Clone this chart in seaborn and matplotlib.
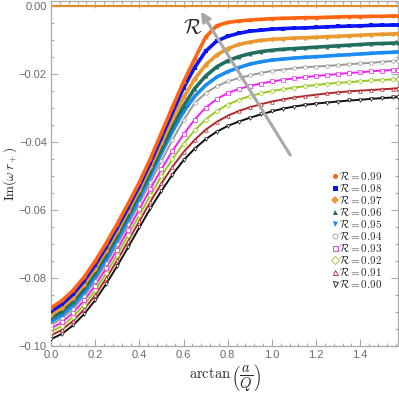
import numpy as np
import pandas as pd
import matplotlib
matplotlib.use('Agg')
import matplotlib.pyplot as plt
import seaborn as sns
from matplotlib.lines import Line2D

# arctan(a/Q) sample points
x_vals = [0.00, 0.05, 0.10, 0.15, 0.20, 0.25, 0.30, 0.35, 0.40, 0.45, 0.50,
          0.55, 0.60, 0.65, 0.70, 0.75, 0.80, 0.85, 0.90, 0.95, 1.00, 1.05,
          1.10, 1.15, 1.20, 1.25, 1.30, 1.35, 1.40, 1.45, 1.50, 1.55, 1.5708]

# Im(omega r+), one list per R
im_099 = [-0.0888, -0.0866, -0.0836, -0.0797, -0.0750, -0.0697, -0.0640, -0.0580, -0.0518, -0.0448, -0.0372,
          -0.0296, -0.0222, -0.0155, -0.0090, -0.0057, -0.0047, -0.0043, -0.0040, -0.0038, -0.0036, -0.0035,
          -0.0034, -0.0033, -0.0033, -0.0032, -0.0031, -0.0030, -0.0030, -0.0029, -0.0029, -0.0028, -0.0028]
im_098 = [-0.0898, -0.0877, -0.0847, -0.0808, -0.0761, -0.0708, -0.0651, -0.0591, -0.0529, -0.0460, -0.0386,
          -0.0312, -0.0240, -0.0180, -0.0132, -0.0102, -0.0088, -0.0079, -0.0073, -0.0070, -0.0067, -0.0065,
          -0.0064, -0.0063, -0.0062, -0.0060, -0.0059, -0.0058, -0.0057, -0.0056, -0.0055, -0.0055, -0.0054]
im_097 = [-0.0908, -0.0887, -0.0858, -0.0819, -0.0772, -0.0719, -0.0662, -0.0602, -0.0540, -0.0473, -0.0402,
          -0.0332, -0.0268, -0.0214, -0.0172, -0.0143, -0.0124, -0.0112, -0.0105, -0.0100, -0.0097, -0.0095,
          -0.0093, -0.0092, -0.0091, -0.0089, -0.0088, -0.0086, -0.0085, -0.0083, -0.0082, -0.0081, -0.0080]
im_096 = [-0.0918, -0.0898, -0.0869, -0.0830, -0.0784, -0.0731, -0.0674, -0.0614, -0.0552, -0.0487, -0.0419,
          -0.0353, -0.0293, -0.0242, -0.0205, -0.0178, -0.0160, -0.0148, -0.0139, -0.0133, -0.0129, -0.0126,
          -0.0124, -0.0122, -0.0120, -0.0118, -0.0116, -0.0114, -0.0112, -0.0110, -0.0109, -0.0108, -0.0107]
im_095 = [-0.0928, -0.0909, -0.0880, -0.0842, -0.0796, -0.0744, -0.0687, -0.0627, -0.0565, -0.0500, -0.0432,
          -0.0368, -0.0310, -0.0265, -0.0232, -0.0208, -0.0192, -0.0180, -0.0170, -0.0163, -0.0158, -0.0155,
          -0.0152, -0.0150, -0.0148, -0.0146, -0.0144, -0.0142, -0.0140, -0.0138, -0.0136, -0.0135, -0.0134]
im_094 = [-0.0938, -0.0919, -0.0891, -0.0854, -0.0809, -0.0757, -0.0701, -0.0642, -0.0580, -0.0518, -0.0455,
          -0.0393, -0.0335, -0.0285, -0.0255, -0.0235, -0.0221, -0.0211, -0.0203, -0.0196, -0.0190, -0.0186,
          -0.0182, -0.0179, -0.0177, -0.0175, -0.0173, -0.0170, -0.0168, -0.0166, -0.0163, -0.0161, -0.0160]
im_093 = [-0.0948, -0.0930, -0.0902, -0.0866, -0.0822, -0.0771, -0.0716, -0.0657, -0.0597, -0.0537, -0.0479,
          -0.0425, -0.0377, -0.0333, -0.0298, -0.0273, -0.0255, -0.0243, -0.0234, -0.0227, -0.0221, -0.0216,
          -0.0212, -0.0208, -0.0205, -0.0202, -0.0199, -0.0196, -0.0194, -0.0191, -0.0189, -0.0187, -0.0186]
im_092 = [-0.0958, -0.0941, -0.0914, -0.0879, -0.0836, -0.0786, -0.0731, -0.0673, -0.0614, -0.0556, -0.0500,
          -0.0449, -0.0404, -0.0365, -0.0333, -0.0308, -0.0289, -0.0275, -0.0264, -0.0256, -0.0249, -0.0244,
          -0.0239, -0.0235, -0.0231, -0.0228, -0.0225, -0.0223, -0.0220, -0.0218, -0.0216, -0.0215, -0.0214]
im_091 = [-0.0969, -0.0952, -0.0926, -0.0892, -0.0850, -0.0801, -0.0747, -0.0690, -0.0632, -0.0575, -0.0521,
          -0.0472, -0.0429, -0.0393, -0.0363, -0.0340, -0.0322, -0.0308, -0.0297, -0.0288, -0.0280, -0.0274,
          -0.0268, -0.0264, -0.0260, -0.0256, -0.0253, -0.0250, -0.0248, -0.0246, -0.0244, -0.0242, -0.0241]
im_090 = [-0.0980, -0.0964, -0.0939, -0.0906, -0.0865, -0.0817, -0.0764, -0.0708, -0.0651, -0.0595, -0.0543,
          -0.0495, -0.0453, -0.0419, -0.0391, -0.0369, -0.0352, -0.0339, -0.0328, -0.0318, -0.0309, -0.0301,
          -0.0295, -0.0290, -0.0286, -0.0283, -0.0280, -0.0277, -0.0275, -0.0272, -0.0270, -0.0268, -0.0267]

r_labels = ['0.99', '0.98', '0.97', '0.96', '0.95', '0.94', '0.93', '0.92', '0.91', '0.90']
series = [im_099, im_098, im_097, im_096, im_095, im_094, im_093, im_092, im_091, im_090]

# styles
colors = ['#FF6410', '#0A14F5', '#E89A30', '#216E5E', '#1A8CF0',
          '#9A9A9A', '#F020F0', '#98C820', '#B02828', '#111111']
markers = ['o', 's', 'D', '^', 'v', 'o', 's', 'D', '^', 'v']
filled = [True, True, True, True, True, False, False, False, False, False]

sns.set_style('ticks')
plt.rcParams['mathtext.fontset'] = 'cm'
plt.rcParams['font.family'] = ['Liberation Sans', 'DejaVu Sans']

fig = plt.figure(figsize=(3.99, 3.95), dpi=100)
ax = fig.add_axes([51/399, 49/395, 347/399, 345/395])

# horizontal line at zero
ax.axhline(0.0, color='#E08A2E', lw=1.6, zorder=1)

rows = []
for lab, vals in zip(r_labels, series):
    for xv, yv in zip(x_vals, vals):
        rows.append({'x': xv, 'im': yv, 'R': lab})
df = pd.DataFrame(rows)

# draw R=0.90 first so R=0.99 ends up on top
for i in reversed(range(len(r_labels))):
    d = df[df.R == r_labels[i]]
    if filled[i]:
        sns.lineplot(data=d, x='x', y='im', ax=ax, color=colors[i], lw=2.6,
                     marker=markers[i], markersize=2.8, markeredgewidth=0,
                     markerfacecolor=colors[i], zorder=3)
    else:
        sns.lineplot(data=d, x='x', y='im', ax=ax, color=colors[i], lw=1.4,
                     marker=markers[i], markersize=2.6, markeredgewidth=0.5,
                     markerfacecolor='white', markeredgecolor=colors[i], zorder=3)

# arrow showing increasing R
ax.annotate('', xy=(0.672, -0.0008), xytext=(1.09, -0.0445),
            arrowprops=dict(arrowstyle='-|>', color='#A8A8A8', lw=2.2,
                            mutation_scale=14), zorder=4)
ax.text(0.640, -0.0066, r'$\mathcal{R}$', fontsize=15, ha='center', va='center', zorder=5)

ax.set_xlim(0, np.pi/2)
ax.set_ylim(-0.1, 0.0016)
ax.set_xticks([0.0, 0.2, 0.4, 0.6, 0.8, 1.0, 1.2, 1.4])
ax.set_xticklabels(['0.0', '0.2', '0.4', '0.6', '0.8', '1.0', '1.2', '1.4'])
ax.set_yticks([-0.10, -0.08, -0.06, -0.04, -0.02, 0.00])
ax.set_yticklabels(['\u22120.10', '\u22120.08', '\u22120.06', '\u22120.04', '\u22120.02', '0.00'])
ax.set_xticks(np.arange(0, 1.58, 0.04), minor=True)
ax.set_yticks(np.arange(-0.1, 0.0016, 0.005), minor=True)
ax.tick_params(which='both', direction='in', top=True, right=True,
               colors='#AAAAAA', labelcolor='#6A6A6A', labelsize=8, width=0.8, pad=3)
ax.tick_params(which='major', length=5)
ax.tick_params(which='minor', length=2.5)
for s in ax.spines.values():
    s.set_color('#AAAAAA')
    s.set_linewidth(0.9)

ax.set_xlabel(r'$\arctan\left(\dfrac{a}{Q}\right)$', fontsize=10.5, labelpad=2)
ax.set_ylabel(r'$\mathrm{Im}(\omega\, r_+)$', fontsize=9.5)
ax.yaxis.set_label_coords(-0.093, 0.5)

handles = []
for i in range(len(r_labels)):
    fc = colors[i] if filled[i] else 'white'
    handles.append(Line2D([], [], ls='none', marker=markers[i], markersize=3.6,
                          markerfacecolor=fc, markeredgecolor=colors[i],
                          markeredgewidth=0 if filled[i] else 0.6))
ax.legend(handles, [r'$\mathcal{R}=' + r + '$' for r in r_labels],
          loc='upper left', bbox_to_anchor=(0.81, 0.51), frameon=False,
          fontsize=8, handlelength=0.5, handletextpad=0.15, labelspacing=0.0,
          borderaxespad=0, borderpad=0)

fig.savefig('out.png', dpi=100)
